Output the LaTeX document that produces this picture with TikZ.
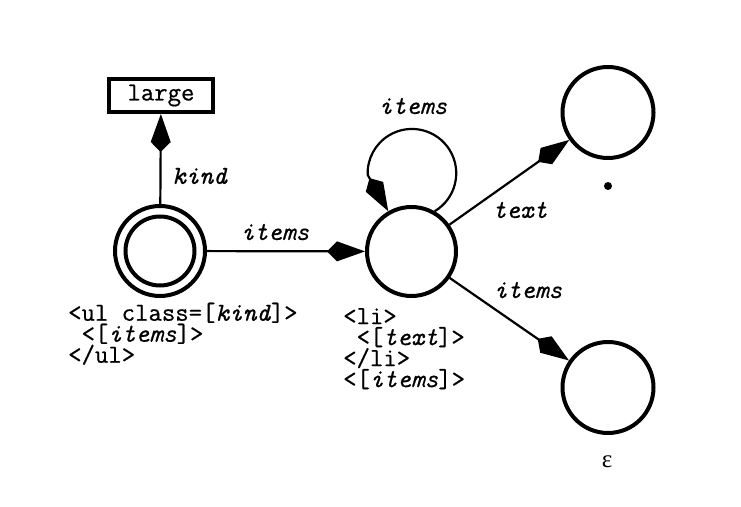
\documentclass[tikz,border=0pt]{standalone}
\usepackage{fontspec}
\setmonofont[FakeBold=0.6]{Latin Modern Mono}
\newfontfamily\serifgr{Liberation Serif}
\usetikzlibrary{arrows.meta}
\begin{document}
\begin{tikzpicture}[x=1pt,y=1pt,
  state/.style={circle, draw, line width=4pt, minimum size=89pt, inner sep=0pt},
  edge/.style={line width=2.2pt, -{Kite[length=38pt,width=20pt,inset=10pt]}},
  lbl/.style={font=\fontsize{26}{21}\selectfont\ttfamily, inner sep=0pt},
  code/.style={lbl, align=left, anchor=north west}]
\useasboundingbox[fill=white] (0,0) rectangle (741,506);
% states
\node[state, minimum size=90pt] (start) at (160,255) {};
\node[state, minimum size=69pt] (startin) at (160,255) {};
\node[draw, line width=4pt, minimum width=104pt, minimum height=33pt, lbl] (large) at (161,410.5) {large};
\node[state] (mid) at (411.5,254.5) {};
\node[state, minimum size=91pt] (tr) at (608,393.5) {};
\node[state, minimum size=91pt] (br) at (608,118.5) {};
\node[circle, fill, inner sep=0pt, minimum size=8pt] (dotmark) at (608,320) {};
\node[inner sep=0pt, font=\fontsize{25}{25}\serifgr] (eps) at (607,44) {ε};
% edges
\draw[edge] (start) -- (large);
\draw[edge] (start) -- (mid);
\draw[edge] (mid) -- (tr);
\draw[edge] (mid) -- (br);
\draw[edge] (mid.60) arc[start angle=-59, end angle=182, radius=44.3] -- (mid.120);
% edge labels
\node[lbl, anchor=west] (lkind) at (172,330) {\textit{kind}};
\node[lbl] (litems1) at (275,274) {\textit{items}};
\node[lbl] (litems2) at (413,400) {\textit{items}};
\node[lbl] (ltext) at (520,296) {\textit{text}};
\node[lbl] (litems3) at (528,216) {\textit{items}};
% code labels
\node[code] (ulcode) at (68,203.5) {<ul class=[\textit{kind}]>\\~<[\textit{items}]>\\</ul>};
\node[code] (licode) at (343,198) {<li>\\~<[\textit{text}]>\\</li>\\<[\textit{items}]>};
\end{tikzpicture}
\end{document}
